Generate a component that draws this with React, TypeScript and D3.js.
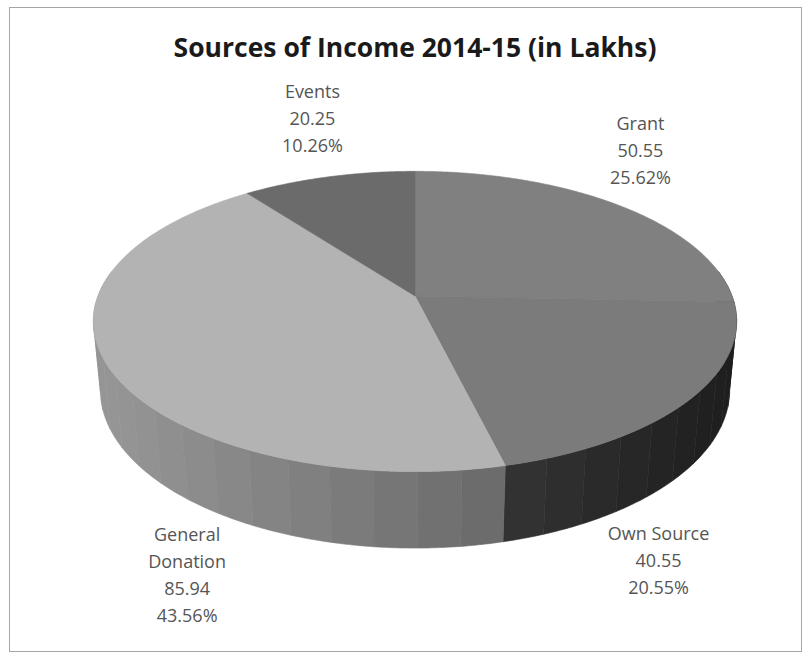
import React from "react";
import * as d3 from "d3";

const categories = ["Grant", "Own Source", "General Donation", "Events"];
const values = [50.55, 40.55, 85.94, 20.25];
const labelNameLines = [["Grant"], ["Own Source"], ["General", "Donation"], ["Events"]];
const titleText = "Sources of Income 2014-15 (in Lakhs)";

// styles
const topColors = ["#808080", "#7b7b7b", "#b3b3b3", "#6b6b6b"];
const sideColors = [
  ["#282828", "#1a1a1a"],
  ["#343434", "#1e1e1e"],
  ["#959595", "#6a6a6a"],
  ["#5a5a5a", "#5a5a5a"],
];
// label placement offsets from the projected slice anchor (layout only)
const labelOffsets = [
  [21, -54, "top"],
  [-25, 90, "bottom"],
  [74, 142, "bottom"],
  [-16, -57, "top"],
];

const W = 809, H = 659;
const cx = 415, cy = 296, s = 317;
const sinA = 0.46, cosA = 0.888, D = 5.24, depth = 0.245;

function proj(theta: number, y: number, r = 1): [number, number, number] {
  const x = r * Math.sin(theta);
  const z = -r * Math.cos(theta);
  const v = -y * cosA + z * sinA;
  const d = y * sinA + z * cosA;
  const f = D / (D - d);
  return [cx + s * f * x, cy + s * f * v, d];
}

export default function App() {
  const total = d3.sum(values);
  const pie = d3.pie<number>().sort(null).startAngle(0).endAngle(2 * Math.PI);
  const arcs = pie(values);
  const pct = d3.format(".2%");
  const num = d3.format(".2f");
  const step = (7 * Math.PI) / 180;

  const tops = arcs.map((a, i) => {
    const n = Math.max(4, Math.ceil((a.endAngle - a.startAngle) / (0.5 * Math.PI / 180)));
    const pts: string[] = [`${cx},${cy}`];
    for (let k = 0; k <= n; k++) {
      const t = a.startAngle + ((a.endAngle - a.startAngle) * k) / n;
      const p = proj(t, 0);
      pts.push(`${p[0].toFixed(2)},${p[1].toFixed(2)}`);
    }
    return <polygon key={"top" + i} points={pts.join(" ")} fill={topColors[i]} stroke={topColors[i]} strokeWidth={0.6} />;
  });

  const sides: { d: number; el: JSX.Element }[] = [];
  const visLo = (80 * Math.PI) / 180, visHi = (280 * Math.PI) / 180;
  arcs.forEach((a, i) => {
    const lo = Math.max(a.startAngle, visLo);
    const hi = Math.min(a.endAngle, visHi);
    if (hi <= lo) return;
    const xs = [proj(lo, 0)[0], proj(hi, 0)[0], proj(Math.PI * 1.5, 0)[0], proj(Math.PI * 0.5, 0)[0]];
    const xL = Math.max(Math.min(xs[0], xs[1]), xs[2]);
    const xR = Math.min(Math.max(xs[0], xs[1]), xs[3]);
    const col = d3.interpolateRgb(sideColors[i][0], sideColors[i][1]);
    const n = Math.max(1, Math.ceil((hi - lo) / step));
    for (let k = 0; k < n; k++) {
      const t0 = lo + ((hi - lo) * k) / n;
      const t1 = lo + ((hi - lo) * (k + 1)) / n;
      const sub = 12;
      const topPts: string[] = [], botPts: string[] = [];
      for (let j = 0; j <= sub; j++) {
        const t = t0 + ((t1 - t0) * j) / sub;
        const p = proj(t, 0);
        const q = proj(t, -depth);
        topPts.push(`${p[0].toFixed(2)},${p[1].toFixed(2)}`);
        botPts.unshift(`${q[0].toFixed(2)},${q[1].toFixed(2)}`);
      }
      const mid = proj((t0 + t1) / 2, 0);
      const tt = xR > xL ? Math.min(1, Math.max(0, (mid[0] - xL) / (xR - xL))) : 0;
      const c = col(tt);
      sides.push({
        d: mid[2],
        el: <polygon key={`side${i}-${k}`} points={topPts.concat(botPts).join(" ")} fill={c} stroke={c} strokeWidth={0.6} />,
      });
    }
  });
  sides.sort((p, q) => p.d - q.d);

  const labels = arcs.map((a, i) => {
    const mid = (a.startAngle + a.endAngle) / 2;
    const [dx, dy, level] = labelOffsets[i] as [number, number, string];
    const p = proj(mid, level === "top" ? 0 : -depth);
    const lines = [...labelNameLines[i], num(values[i]), pct(values[i] / total)];
    const lh = 27;
    const x0 = p[0] + dx;
    const y0 = p[1] + dy - ((lines.length - 1) * lh) / 2;
    return (
      <text key={"lab" + i} x={x0} y={y0} textAnchor="middle" dominantBaseline="middle"
        fontFamily="'Open Sans', sans-serif" fontSize={18} fill="#555555">
        {lines.map((l, j) => (
          <tspan key={j} x={x0} y={y0 + j * lh}>{l}</tspan>
        ))}
      </text>
    );
  });

  return (
    <svg width={W} height={H} style={{ position: "absolute", left: 0, top: 0, background: "#fff" }}>
      <rect x={0} y={0} width={W} height={H} fill="#fff" />
      <rect x={9.5} y={7.5} width={792} height={644} fill="#fff" stroke="#a6a6a6" strokeWidth={1} />
      <text x={415} y={57} textAnchor="middle" fontFamily="'Open Sans', sans-serif" fontWeight="bold" fontSize={26.5} fill="#1a1a1a">
        {titleText}
      </text>
      {sides.map((sd) => sd.el)}
      {tops}
      {labels}
    </svg>
  );
}
